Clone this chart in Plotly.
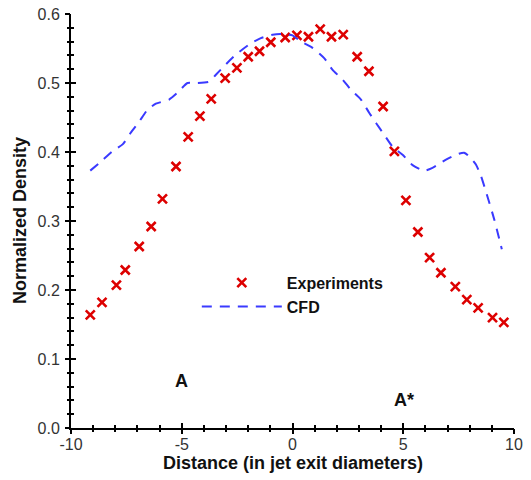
import plotly.graph_objects as go

# Experimental data
exp_x = [-9.13, -8.60, -7.95, -7.55, -6.92, -6.38, -5.87, -5.26, -4.71, -4.18,
         -3.67, -3.04, -2.51, -2.00, -1.49, -0.98, -0.33, 0.20, 0.72, 1.25,
         1.76, 2.29, 2.92, 3.45, 4.09, 4.60, 5.12, 5.66, 6.19, 6.70,
         7.35, 7.87, 8.38, 9.03, 9.54]
exp_y = [0.164, 0.182, 0.207, 0.229, 0.263, 0.292, 0.332, 0.379, 0.422, 0.452,
         0.477, 0.507, 0.522, 0.538, 0.546, 0.559, 0.566, 0.569, 0.567, 0.578,
         0.567, 0.570, 0.538, 0.517, 0.466, 0.401, 0.330, 0.284, 0.247, 0.225,
         0.205, 0.186, 0.174, 0.160, 0.153]

# CFD data
cfd_x = [-9.13, -8.65, -8.13, -7.67, -7.30, -6.92, -6.55, -6.17, -5.57, -5.19,
         -4.74, -4.36, -3.76, -3.46, -3.01, -2.56, -1.95, -1.43, -0.90, -0.52,
         0.00, 0.38, 0.90, 1.43, 1.81, 2.26, 2.64, 3.09, 3.46, 3.77,
         4.14, 4.51, 4.97, 5.42, 5.95, 6.32, 6.93, 7.38, 7.75, 8.05,
         8.28, 8.51, 8.73, 9.11, 9.45]
cfd_y = [0.373, 0.386, 0.401, 0.411, 0.428, 0.444, 0.461, 0.470, 0.476, 0.486,
         0.500, 0.500, 0.502, 0.512, 0.527, 0.541, 0.556, 0.565, 0.570, 0.571,
         0.569, 0.560, 0.551, 0.536, 0.519, 0.505, 0.490, 0.476, 0.457, 0.442,
         0.425, 0.408, 0.396, 0.381, 0.373, 0.377, 0.389, 0.396, 0.399, 0.391,
         0.382, 0.365, 0.343, 0.302, 0.259]

labels_text = ["A", "A*"]
labels_x = [-4.99, 5.04]
labels_y = [0.0675, 0.041]

x_range = [-10, 10]
y_range = [0, 0.6]
x_ticks = [-10, -5, 0, 5, 10]
x_ticktext = ["-10", "-5", "0", "5", "10"]
y_ticks = [0, 0.1, 0.2, 0.3, 0.4, 0.5, 0.6]
y_ticktext = ["0.0", "0.1", "0.2", "0.3", "0.4", "0.5", "0.6"]

x_title = "Distance (in jet exit diameters)"
y_title = "Normalized Density"

FONT = "Arial, Liberation Sans, sans-serif"

fig = go.Figure()
fig.add_trace(go.Scatter(
    x=exp_x, y=exp_y, mode="markers", name="Experiments",
    marker=dict(symbol="x-thin-open", size=9, color="#dd0000",
                line=dict(width=2.6, color="#dd0000")),
))
fig.add_trace(go.Scatter(
    x=cfd_x, y=cfd_y, mode="lines", name="CFD",
    line=dict(color="#3a3aff", width=2, dash="10px,8px", shape="spline", smoothing=0.6),
))

for t, x, y in zip(labels_text, labels_x, labels_y):
    fig.add_annotation(x=x, y=y, text=f"<b>{t}</b>", showarrow=False,
                       font=dict(family=FONT, size=18, color="#111"))

# axis titles
fig.add_annotation(xref="paper", yref="paper", x=0.5, y=-0.085,
                   text=f"<b>{x_title}</b>", showarrow=False,
                   xanchor="center", yanchor="middle",
                   font=dict(family=FONT, size=18, color="#111"))
fig.add_annotation(xref="paper", yref="paper", x=-0.115, y=0.5,
                   text=f"<b>{y_title}</b>", showarrow=False, textangle=-90,
                   xanchor="center", yanchor="middle",
                   font=dict(family=FONT, size=18, color="#111"))

axis_common = dict(showgrid=False, zeroline=False, showline=True,
                   linecolor="black", linewidth=2, tickcolor="black",
                   tickwidth=2, mirror=False, automargin=False)

fig.update_layout(
    width=531, height=480,
    margin=dict(l=71, r=17, t=14, b=52),
    plot_bgcolor="white", paper_bgcolor="white",
    font=dict(family=FONT, size=16, color="#333"),
    showlegend=True,
    legend=dict(x=0.284, y=0.392, xanchor="left", yanchor="top",
                bgcolor="rgba(0,0,0,0)", itemwidth=80,
                font=dict(family=FONT, size=16, color="#111", weight="bold"),
                tracegroupgap=0),
    xaxis=dict(range=x_range, tickvals=x_ticks, ticktext=x_ticktext,
               ticks="inside", ticklen=5, ticklabelstandoff=1,
               minor=dict(dtick=1, ticks="inside", ticklen=3, tickwidth=1.5, tickcolor="black"),
               **axis_common),
    yaxis=dict(range=y_range, tickvals=y_ticks, ticktext=y_ticktext,
               ticks="inside", ticklen=5, ticklabelstandoff=6,
               minor=dict(dtick=0.02, ticks="inside", ticklen=3, tickwidth=1.5, tickcolor="black"),
               **axis_common),
    xaxis2=dict(range=x_range, overlaying="x", side="bottom", showticklabels=False,
                tickvals=x_ticks, ticks="outside", ticklen=5,
                minor=dict(dtick=1, ticks="outside", ticklen=3, tickwidth=1.5, tickcolor="black"),
                showgrid=False, zeroline=False, showline=False, automargin=False,
                tickcolor="black", tickwidth=2),
    yaxis2=dict(range=y_range, overlaying="y", side="left", showticklabels=False,
                tickvals=y_ticks, ticks="outside", ticklen=5,
                minor=dict(dtick=0.02, ticks="outside", ticklen=3, tickwidth=1.5, tickcolor="black"),
                showgrid=False, zeroline=False, showline=False, automargin=False,
                tickcolor="black", tickwidth=2),
)
# invisible trace to activate the secondary axes
fig.add_trace(go.Scatter(x=x_range, y=y_range, xaxis="x2", yaxis="y2",
                         mode="markers", marker=dict(opacity=0), showlegend=False,
                         hoverinfo="skip"))

fig.write_html("out.html")
